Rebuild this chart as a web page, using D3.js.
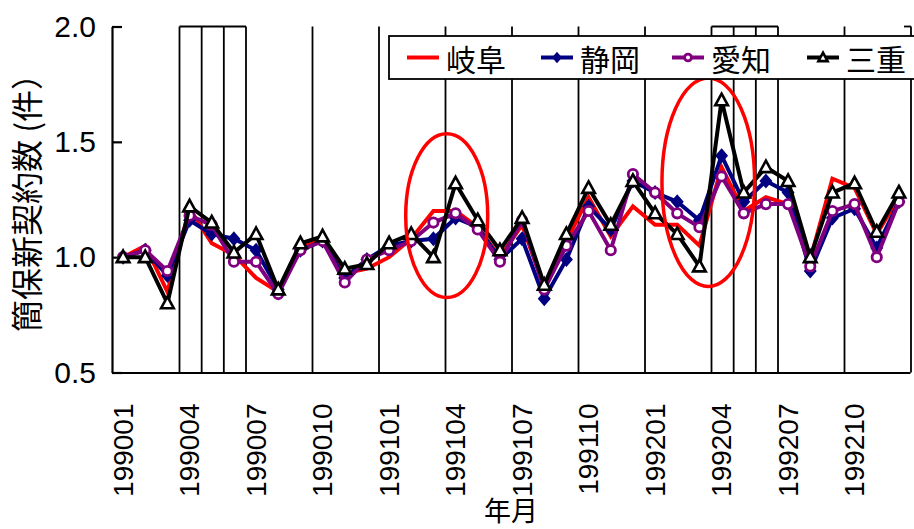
<!DOCTYPE html>
<html>
<head>
<meta charset="utf-8">
<script src="https://cdn.jsdelivr.net/npm/d3@7/dist/d3.min.js"></script>
<style>
  body { margin: 0; background: #fff; }
  text { fill: #000; }
</style>
</head>
<body>
<svg id="chart" width="914" height="529"></svg>
<script>
// Monthly categories, January 1990 – December 1992
const months = [
  "199001","199002","199003","199004","199005","199006","199007","199008","199009","199010","199011","199012",
  "199101","199102","199103","199104","199105","199106","199107","199108","199109","199110","199111","199112",
  "199201","199202","199203","199204","199205","199206","199207","199208","199209","199210","199211","199212"
];
const tickMonths = ["199001","199004","199007","199010","199101","199104","199107","199110","199201","199204","199207","199210"];

// New simple-insurance contracts, index (Jan 1990 = 1.0)
const gifu     = [1.00,1.05,0.85,1.21,1.06,1.01,0.91,0.85,1.05,1.08,0.93,0.95,1.00,1.08,1.20,1.20,1.13,1.00,1.14,0.87,1.07,1.26,1.09,1.22,1.14,1.14,1.05,1.39,1.20,1.26,1.23,0.99,1.34,1.30,1.10,1.26];
const shizuoka = [1.00,1.03,0.92,1.16,1.10,1.08,1.03,0.86,1.03,1.07,0.91,0.99,1.05,1.07,1.08,1.17,1.13,0.99,1.08,0.82,0.99,1.22,1.12,1.33,1.28,1.24,1.16,1.44,1.24,1.33,1.28,0.94,1.17,1.21,1.04,1.24];
const aichi    = [1.00,1.03,0.94,1.18,1.14,0.98,0.98,0.84,1.03,1.07,0.89,0.99,1.03,1.07,1.15,1.19,1.12,0.98,1.16,0.86,1.05,1.20,1.03,1.36,1.28,1.19,1.13,1.35,1.19,1.23,1.23,0.96,1.20,1.23,1.00,1.24];
const mie      = [1.00,1.00,0.80,1.22,1.15,1.02,1.10,0.86,1.06,1.09,0.95,0.97,1.06,1.10,1.00,1.32,1.16,1.03,1.17,0.88,1.10,1.30,1.14,1.33,1.19,1.10,0.96,1.68,1.28,1.39,1.33,1.00,1.28,1.32,1.11,1.28];

const seriesNames  = ["岐阜","静岡","愛知","三重"];
const seriesValues = [gifu, shizuoka, aichi, mie];
const seriesColors = ["#ff0000","#000080","#800080","#000000"];
const seriesMarkers = ["none","diamond","circle","triangle"];

const yTicks = [0.5, 1.0, 1.5, 2.0];

// Dividers between months (category boundary index) and boxed periods
const dividerIdx = [3,4,5,6,9,12,15,18,21,24,27,28,29,30,33,36];
const boxSpans = [[3,6],[27,30]];

// Highlight rings: [centre month index, centre value, half-width in months, half-height in value]
const rings = [[14.6, 1.18, 1.85, 0.355], [26.4, 1.325, 2.09, 0.452]];

const svg = d3.select("#chart");
const L = 112, R = 910, T = 26.5, B = 372.5;

const x = d3.scaleBand().domain(months).range([L, R]).padding(0);
const step = x.step();
const cx = m => x(m) + step / 2;
const xi = i => L + step * (i + 0.5);
const y = d3.scaleLinear().domain([0.5, 2.0]).range([B, T]);

const latin = "'Liberation Sans', Arial, sans-serif";
const cjk = "'Noto Sans CJK JP', 'Noto Sans CJK SC', sans-serif";

// Month dividers
const gDiv = svg.append("g").attr("stroke", "#000").attr("stroke-width", 1.8);
dividerIdx.forEach(k => {
  gDiv.append("line")
    .attr("x1", L + step * k + 1).attr("x2", L + step * k + 1)
    .attr("y1", T).attr("y2", B);
});
boxSpans.forEach(([a, b]) => {
  gDiv.append("line")
    .attr("x1", L + step * a + 1).attr("x2", L + step * b + 1)
    .attr("y1", T).attr("y2", T);
});
gDiv.append("line").attr("x1", R - 6).attr("x2", R + 1).attr("y1", T).attr("y2", T);

// Y axis (ticks point into the plot)
const yAxis = d3.axisLeft(y).tickValues(yTicks).tickFormat(d3.format(".1f"))
  .tickSizeInner(-10).tickSizeOuter(0).tickPadding(16);
const gy = svg.append("g").attr("transform", `translate(${L},0)`).call(yAxis);
gy.select(".domain").attr("stroke", "#000").attr("stroke-width", 2.2);
gy.selectAll(".tick line").attr("stroke", "#000").attr("stroke-width", 2.2);
gy.selectAll(".tick text").attr("font-family", latin).attr("font-size", 30).attr("fill", "#000");

// X axis line
const xAxis = d3.axisBottom(x).tickValues([]).tickSizeOuter(0);
const gx = svg.append("g").attr("transform", `translate(0,${B})`).call(xAxis);
gx.select(".domain").attr("stroke", "#000").attr("stroke-width", 2.2);

// Rotated month labels
svg.append("g").selectAll("text").data(tickMonths).join("text")
  .attr("transform", d => `translate(${cx(d)},${B + 31}) rotate(-90)`)
  .attr("text-anchor", "end")
  .attr("dominant-baseline", "central")
  .attr("font-family", latin).attr("font-size", 28)
  .text(d => d);

// Axis titles
svg.append("text")
  .attr("transform", "translate(25,332) rotate(-90)")
  .attr("text-anchor", "start").attr("dominant-baseline", "central")
  .attr("font-family", cjk).attr("font-size", 32)
  .text("簡保新契約数 (件）");
svg.append("text")
  .attr("x", 511).attr("y", 521).attr("text-anchor", "middle")
  .attr("font-family", cjk).attr("font-size", 27)
  .text("年月");

// Marker shapes
function drawMarker(g, type, color, px, py, s) {
  if (type === "circle") {
    g.append("circle").attr("cx", px).attr("cy", py).attr("r", s * 0.85)
      .attr("fill", "#fff").attr("stroke", color).attr("stroke-width", 2.8);
  } else if (type === "diamond") {
    g.append("path").attr("transform", `translate(${px},${py})`)
      .attr("d", `M0,${-s * 1.15}L${s},0L0,${s * 1.15}L${-s},0Z`)
      .attr("fill", color).attr("stroke", color).attr("stroke-width", 1.5);
  } else if (type === "triangle") {
    g.append("path").attr("transform", `translate(${px},${py})`)
      .attr("d", `M0,${-s * 1.2}L${s * 1.15},${s * 0.9}L${-s * 1.15},${s * 0.9}Z`)
      .attr("fill", "#fff").attr("stroke", color).attr("stroke-width", 2.6);
  }
}

// Series lines and markers
const line = d3.line().x((d, i) => cx(months[i])).y(d => y(d));
seriesValues.forEach((vals, si) => {
  const g = svg.append("g");
  g.append("path").datum(vals).attr("d", line)
    .attr("fill", "none").attr("stroke", seriesColors[si])
    .attr("stroke-width", 4).attr("stroke-linejoin", "miter");
  vals.forEach((v, i) => drawMarker(g, seriesMarkers[si], seriesColors[si], cx(months[i]), y(v), 5.5));
});

// Highlight rings
rings.forEach(([ci, cv, hw, hh]) => {
  svg.append("ellipse")
    .attr("cx", xi(ci)).attr("cy", y(cv))
    .attr("rx", hw * step).attr("ry", y(0.5) - y(0.5 + hh))
    .attr("fill", "none").attr("stroke", "#ff0000").attr("stroke-width", 3.5);
});

// Legend
const lg = svg.append("g");
lg.append("rect").attr("x", 389).attr("y", 36).attr("width", 530).attr("height", 43)
  .attr("fill", "#fff").attr("stroke", "#000").attr("stroke-width", 1.8);
const legendX = [407, 541, 672, 807];
seriesNames.forEach((name, si) => {
  const x0 = legendX[si], ly = 57.5;
  lg.append("line").attr("x1", x0).attr("x2", x0 + 32).attr("y1", ly).attr("y2", ly)
    .attr("stroke", seriesColors[si]).attr("stroke-width", 4);
  drawMarker(lg, seriesMarkers[si], seriesColors[si], x0 + 16, ly, 4);
  lg.append("text").attr("x", x0 + 39).attr("y", ly).attr("dominant-baseline", "central")
    .attr("font-family", cjk).attr("font-size", 30).text(name);
});
</script>
</body>
</html>
